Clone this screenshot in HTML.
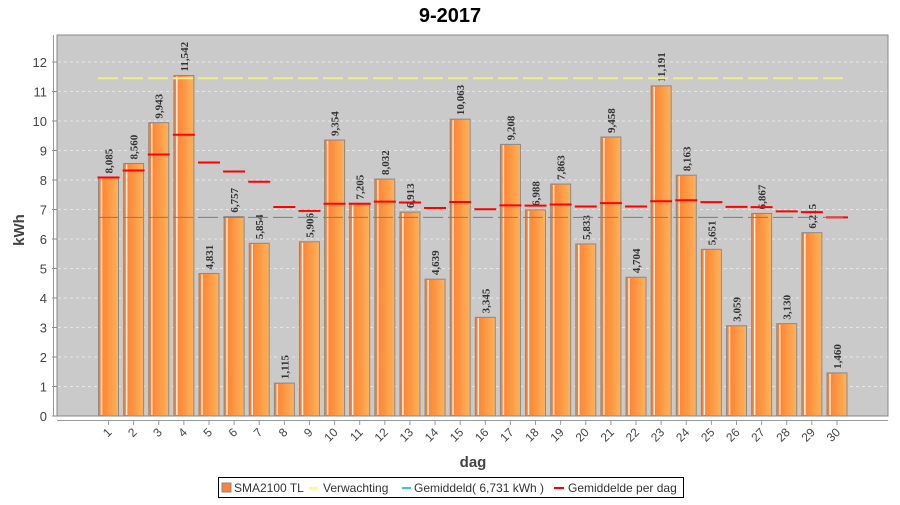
<!DOCTYPE html>
<html><head><meta charset="utf-8"><style>
body{margin:0;background:#fff;width:900px;height:500px;overflow:hidden;font-family:"Liberation Sans",sans-serif}
</style></head><body>
<svg id="s" width="900" height="500" xmlns="http://www.w3.org/2000/svg">
<defs>
<linearGradient id="g" x1="0" x2="1" y1="0" y2="0">
<stop offset="0" stop-color="#ff7a2a"/><stop offset="1" stop-color="#ffb35c"/>
</linearGradient>
</defs>
<text x="450" y="22" text-anchor="middle" font-size="20" font-weight="bold" font-family="Liberation Sans">9-2017</text>
<rect x="57" y="35" width="831" height="381" fill="#cacaca" stroke="#888" stroke-width="1"/>
<g id="c"></g>
<text x="24" y="230" transform="rotate(-90 24 230)" text-anchor="middle" font-size="15" font-weight="bold" fill="#444">kWh</text>
<text x="473" y="467" text-anchor="middle" font-size="15" font-weight="bold" fill="#444">dag</text>
<rect x="218.5" y="477.5" width="465" height="20" fill="#fff" stroke="#000"/>
<rect x="222" y="483" width="9" height="9" fill="#ff8040" stroke="#888"/>
<text x="234" y="492" font-size="12" fill="#333">SMA2100 TL</text>
<line x1="309" y1="488" x2="318" y2="488" stroke="#ffff66" stroke-width="2"/>
<text x="323" y="492" font-size="12" fill="#333">Verwachting</text>
<line x1="402" y1="488" x2="411" y2="488" stroke="#33cccc" stroke-width="2"/>
<text x="414" y="492" font-size="12" fill="#333">Gemiddeld( 6,731 kWh )</text>
<line x1="554" y1="488" x2="564" y2="488" stroke="#ff0000" stroke-width="2"/>
<text x="568" y="492" font-size="12" fill="#333">Gemiddelde per dag</text>
</svg>
<script>
var v=[8.085,8.560,9.943,11.542,4.831,6.757,5.854,1.115,5.906,9.354,7.205,8.032,6.913,4.639,10.063,3.345,9.208,6.988,7.863,5.833,9.458,4.704,11.191,8.163,5.651,3.059,6.867,3.130,6.215,1.460];
var Y=function(k){return 416-k*29.5};var h='';
for(var k=0;k<=12;k++){var y=Y(k);
 if(k>0)h+='<line x1="58" x2="887" y1="'+y+'" y2="'+y+'" stroke="#eee" stroke-dasharray="3,3" stroke-width="0.8"/>';
 h+='<line x1="52" x2="57" y1="'+y+'" y2="'+y+'" stroke="#888"/>';
 h+='<text x="47" y="'+(y+5)+'" text-anchor="end" font-size="13" fill="#444">'+k+'</text>';}
h+='<line x1="57" x2="888" y1="420.5" y2="420.5" stroke="#999"/>';
h+='<line x1="53.5" x2="53.5" y1="35" y2="416" stroke="#999"/>';
var s=0;
for(var i=0;i<30;i++){var cx=108.5+i*25.12,x=cx-10,y=Y(v[i]);
 h+='<rect x="'+x+'" y="'+y+'" width="20" height="'+(416-y)+'" fill="url(#g)" stroke="#8a8a8a"/>';
 h+='<line x1="'+(x+3)+'" x2="'+(x+3)+'" y1="'+(y+1)+'" y2="415" stroke="#fff" stroke-width="1.5" opacity="0.9"/>';
 var lab=v[i].toFixed(3).replace('.',',');
 h+='<text transform="translate('+(cx+4)+','+(y-4)+') rotate(-90)" font-size="11" font-weight="bold" font-family="Liberation Serif" fill="#333">'+lab+'</text>';
 h+='<line x1="'+cx+'" x2="'+cx+'" y1="421" y2="425" stroke="#999"/>';
 h+='<text transform="translate('+(cx+4)+',433) rotate(-45)" text-anchor="end" font-size="12" fill="#444">'+(i+1)+'</text>';
 s+=v[i];var a=Y(s/(i+1));
 h+='<line x1="'+(cx-11)+'" x2="'+(cx+11)+'" y1="'+a+'" y2="'+a+'" stroke="#f00" stroke-width="2"/>';}
h+='<line x1="98" x2="848" y1="'+Y(11.45)+'" y2="'+Y(11.45)+'" stroke="#eeee88" stroke-width="2" stroke-dasharray="20,5"/>';
h+='<line x1="98" x2="848" y1="'+Y(6.731)+'" y2="'+Y(6.731)+'" stroke="#5f8a7a" stroke-width="1" stroke-dasharray="20,5"/>';
document.getElementById('c').innerHTML=h;
</script>
</body></html>
